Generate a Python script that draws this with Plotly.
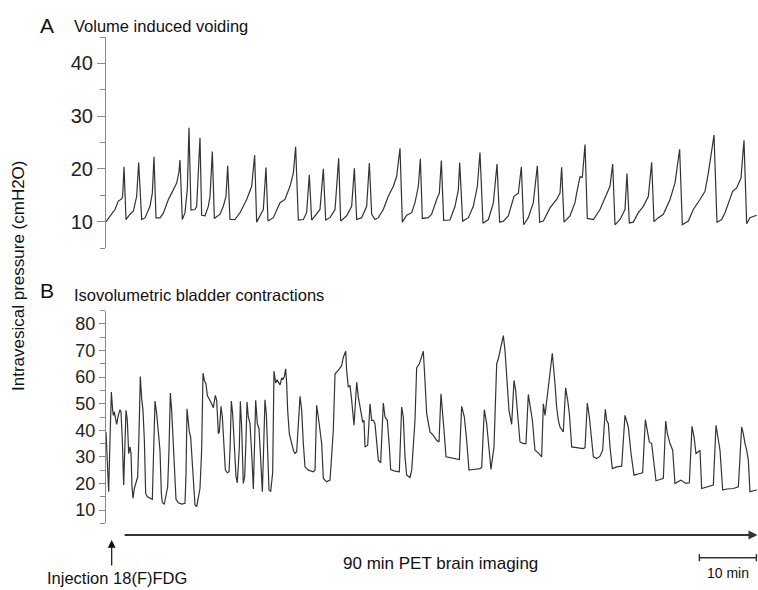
import plotly.graph_objects as go

# ---- Panel A: volume induced voiding (time in min, pressure in cmH2O) ----
a_time = [0, 0.70, 1.58, 2.16, 2.75, 2.92, 3.16, 3.51, 4.21, 4.80, 5.38, 5.73, 6.26, 6.84, 7.72, 8.13,
          8.42, 8.77, 9.47, 10.06, 10.94, 11.52, 12.40, 12.81, 12.98, 13.39, 13.86, 14.27, 14.56, 14.91,
          15.61, 15.91, 16.49, 16.78, 17.37, 17.95, 18.25, 18.65, 19.01, 20.00, 20.58, 21.05, 21.35,
          21.75, 22.63, 23.51, 24.68, 25.56, 26.08, 26.43, 27.02, 27.60, 28.07, 28.42, 29.36, 30.53,
          31.40, 32.28, 32.87, 33.27, 33.74, 34.62, 35.20, 35.67, 36.08, 36.67, 37.54, 38.13, 38.54,
          39.30, 40.18, 40.82, 41.17, 42.22, 43.10, 43.57, 43.98, 44.85, 45.73, 46.20, 46.61, 47.19,
          47.78, 48.65, 49.53, 50.41, 50.99, 51.58, 51.99, 52.75, 53.63, 54.21, 54.80, 55.15, 55.50,
          56.55, 57.13, 58.01, 58.48, 58.83, 59.24, 60.35, 61.23, 61.81, 62.05, 62.57, 63.57, 64.44,
          65.15, 65.61, 66.14, 67.08, 67.95, 68.60, 69.06, 69.71, 70.58, 71.58, 72.34, 72.87, 73.27,
          74.09, 74.97, 75.67, 76.08, 76.73, 77.89, 79.06, 79.65, 79.94, 80.35, 81.40, 82.28, 82.57,
          83.16, 83.57, 84.04, 84.44, 85.50, 86.67, 87.54, 88.42, 88.89, 89.30, 90.18, 91.05, 91.40,
          91.81, 92.51, 93.39, 94.27, 95.15, 95.73, 96.14, 96.90, 97.78, 98.95, 99.82, 100.64, 101.11,
          102.16, 103.04, 104.21, 105.09, 105.67, 106.67, 107.19, 108.01, 108.60, 109.47, 109.94,
          110.64, 111.40, 111.93, 112.40, 112.98, 114.15]
a_pressure = [10.0, 11.1, 12.3, 13.9, 14.3, 14.8, 20.4, 10.4, 11.4, 12.0, 14.8, 21.2, 10.4, 10.7, 12.9, 15.4,
              22.3, 10.7, 10.7, 11.6, 14.2, 15.4, 17.3, 19.5, 21.7, 10.4, 11.7, 16.2, 27.8, 12.2,
              12.3, 12.9, 25.9, 11.2, 11.1, 12.9, 14.8, 23.3, 10.6, 11.4, 12.9, 14.8, 20.6,
              10.4, 10.4, 11.7, 14.2, 16.7, 22.6, 9.9, 11.1, 12.3, 20.25, 10.1, 10.75, 13.6,
              14.2, 16.7, 19.2, 24.2, 10.3, 10.4, 11.7, 18.9, 10.3, 11.2, 12.3, 20.0, 10.3,
              10.75, 12.3, 22.0, 10.1, 11.1, 12.9, 20.1, 10.4, 10.75, 12.9, 21.1, 11.4, 10.4,
              10.75, 12.3, 14.8, 16.7, 18.6, 23.9, 9.9, 11.2, 11.7, 13.6, 16.7, 21.9, 10.6,
              10.75, 11.4, 14.2, 15.4, 21.6, 10.25, 10.3, 12.9, 16.0, 21.2, 10.1, 10.75, 12.9,
              16.7, 23.1, 9.7, 10.4, 13.5, 20.9, 9.9, 10.1, 11.1, 14.8, 15.4, 20.4, 9.4,
              10.75, 13.6, 20.6, 9.9, 10.1, 12.6, 14.2, 15.4, 20.3, 9.9, 11.1, 13.6, 15.4,
              18.5, 18.4, 24.6, 10.6, 10.4, 12.3, 14.5, 16.7, 20.9, 9.4, 10.4, 12.3, 19.1,
              9.75, 9.9, 11.7, 12.9, 14.8, 21.25, 10.0, 10.75, 11.4, 14.2, 17.3, 23.7, 9.4,
              10.1, 12.3, 14.2, 15.75, 19.2, 26.4, 9.9, 10.4, 11.7, 14.2, 15.75,
              16.4, 18.25, 25.4, 9.6, 10.75, 11.2]

# ---- Panel B: isovolumetric bladder contractions ----
b_time = [0, 0.23, 0.47, 0.70, 0.94, 1.17, 1.29, 1.46, 1.64, 1.87, 2.16, 2.46, 2.63, 2.87, 3.10, 3.33,
          3.51, 3.74, 3.98, 4.21, 4.39, 4.56, 4.74, 4.97, 5.26, 5.56, 5.79, 6.02, 6.26, 6.49, 6.73,
          6.96, 7.25, 7.72, 8.13, 8.36, 8.60, 8.89, 9.18, 9.47, 9.71, 9.88, 10.23, 10.53, 10.82,
          11.05, 11.29, 11.52, 11.81, 12.05, 12.28, 12.69, 13.27, 13.86, 14.04, 14.21, 14.44, 14.62,
          14.85, 15.09, 15.32, 15.61, 15.91, 16.26, 16.49, 16.78, 17.02, 17.25, 17.54, 17.78, 18.13,
          18.54, 18.83, 19.18, 19.42, 19.71, 19.88, 20.18, 20.41, 20.70, 20.94, 21.29, 21.58, 21.75,
          21.99, 22.22, 22.51, 22.81, 23.04, 23.39, 23.57, 23.80, 24.09, 24.33, 24.56, 24.74, 24.97,
          25.26, 25.56, 25.85, 26.08, 26.26, 26.55, 26.84, 27.08, 27.43, 27.66, 27.89, 28.13, 28.36,
          28.60, 28.89, 29.24, 29.47, 29.77, 30.00, 30.23, 30.53, 30.82, 30.99, 31.29, 31.52, 31.70,
          31.87, 32.16, 32.57, 32.87, 33.16, 33.45, 34.04, 34.33, 34.62, 34.91, 35.50, 36.37, 36.67,
          36.96, 37.25, 37.54, 37.84, 38.13, 38.71, 39.30, 39.88, 40.18, 40.76, 41.35, 41.64, 42.05,
          42.22, 42.51, 42.81, 43.10, 43.51, 43.98, 44.27, 44.68, 45.03, 45.26, 45.44, 45.91, 46.32,
          46.61, 46.90, 47.19, 47.78, 48.19, 48.65, 48.95, 49.36, 49.71, 49.94, 50.70, 51.46, 51.87,
          52.16, 52.46, 52.75, 53.33, 53.63, 54.21, 54.50, 54.97, 55.38, 55.67, 55.96, 56.26, 56.84,
          57.43, 58.01, 58.42, 58.77, 59.06, 59.30, 59.65, 60.35, 61.52, 61.99, 62.40, 62.87, 63.27,
          63.68, 64.44, 65.61, 65.91, 66.37, 66.78, 67.19, 67.54, 68.07, 68.54, 68.83, 69.24, 69.71,
          70.00, 70.29, 70.70, 71.17, 71.58, 71.87, 72.16, 72.63, 73.22, 73.68, 74.09, 74.39, 74.80,
          75.26, 75.85, 76.43, 76.73, 77.02, 77.31, 77.72, 78.30, 78.77, 79.06, 79.36, 79.65, 80.23,
          80.64, 81.00, 81.29, 81.70, 82.57, 83.74, 84.04, 84.44, 84.80, 85.09, 85.50, 86.08, 86.67,
          87.13, 87.60, 87.84, 88.13, 88.42, 88.83, 89.59, 90.47, 91.05, 91.35, 91.64, 92.11, 92.63,
          93.68, 94.15, 94.62, 94.97, 95.32, 95.73, 96.14, 96.49, 97.19, 97.78, 98.19, 98.48, 98.95,
          99.42, 99.82, 100.41, 100.82, 101.29, 101.75, 102.34, 102.81, 103.16, 103.51, 103.92,
          104.21, 104.50, 105.38, 106.55, 107.02, 107.43, 107.72, 108.19, 108.89, 110.06, 110.94,
          111.52, 111.81, 112.11, 112.40, 112.69, 112.98, 113.57, 114.15]
b_pressure = [39.4, 30.0, 16.9, 36.25, 54.4, 47.5, 45.6, 46.9, 45.0, 42.25, 45.6, 47.75, 46.9, 36.25, 19.4, 38.75,
              47.5, 43.75, 31.25, 33.75, 31.25, 18.75, 14.4, 18.1, 20.0, 22.5, 38.75, 60.25, 51.9, 47.5, 36.25,
              16.25, 15.0, 14.4, 14.0, 32.5, 51.0, 46.25, 38.75, 32.5, 16.25, 12.75, 12.25, 15.0, 18.75,
              32.5, 54.0, 47.5, 36.25, 23.75, 14.0, 12.75, 12.25, 12.5, 23.75, 48.1, 41.25, 39.4,
              37.5, 30.0, 18.75, 11.9, 11.25, 15.0, 18.1, 32.5, 61.5, 58.75, 57.5, 53.1, 51.9,
              50.0, 48.5, 53.1, 51.25, 38.75, 39.4, 49.0, 45.0, 35.0, 25.0, 24.0, 24.4, 32.5,
              51.0, 46.25, 36.25, 22.5, 20.25, 33.5, 50.9, 41.25, 20.0, 22.5, 36.25, 50.6, 45.0,
              42.5, 31.25, 17.9, 36.25, 51.25, 42.5, 40.6, 31.25, 16.9, 33.75, 51.5, 46.25, 30.0,
              17.5, 16.9, 24.0, 62.25, 57.75, 59.0, 58.1, 57.1, 59.75, 59.0, 60.25, 63.1, 57.5,
              47.5, 38.75, 35.0, 32.5, 31.25, 31.9, 52.75, 47.5, 35.0, 26.25, 25.0, 24.4, 25.0,
              49.4, 45.0, 38.75, 35.0, 21.9, 20.6, 21.25, 40.0, 61.25, 62.5, 64.4, 67.5, 69.75,
              62.5, 56.25, 56.9, 51.25, 41.9, 58.1, 52.5, 47.5, 43.1, 43.75, 33.75, 34.4, 50.0,
              43.75, 43.75, 42.5, 28.75, 27.75, 50.25, 45.0, 43.75, 33.75, 25.25, 24.6, 24.4, 48.75,
              45.0, 30.0, 23.1, 22.25, 25.0, 43.75, 63.5, 65.0, 68.1, 69.75, 58.75, 46.25, 39.4,
              38.1, 36.25, 35.6, 53.75, 47.5, 40.0, 30.0, 29.75, 29.4, 29.0, 49.0, 45.0, 36.25,
              25.0, 25.25, 25.6, 26.0, 47.75, 42.5, 33.75, 25.25, 33.75, 65.0, 66.9, 70.6, 75.6,
              70.0, 58.75, 47.5, 42.25, 58.75, 55.0, 47.5, 35.6, 35.0, 35.0, 53.5, 50.0, 43.75,
              32.5, 31.5, 30.0, 50.0, 45.6, 51.25, 60.0, 69.0, 57.5, 48.75, 43.75, 41.25, 39.4,
              56.0, 51.25, 46.25, 33.75, 33.5, 33.1, 33.5, 50.25, 45.0, 38.75, 30.0, 29.4, 30.25,
              32.5, 47.9, 43.75, 42.5, 33.75, 25.6, 26.25, 26.5, 45.6, 43.75, 41.25, 31.25, 23.1,
              23.75, 24.0, 44.0, 40.0, 35.6, 35.0, 26.25, 21.0, 21.5, 21.9, 43.5, 38.75, 35.0,
              32.5, 20.0, 20.6, 21.25, 20.6, 20.0, 20.25, 41.5, 37.5, 31.25, 31.9,
              32.5, 18.1, 18.75, 19.4, 41.9, 36.25, 32.5, 17.5, 17.9, 18.1, 18.75,
              41.25, 38.75, 35.0, 32.5, 28.75, 16.9, 17.25, 17.5]

# ---- Annotation values (min) ----
injection_time = 1.0
imaging_start, imaging_end = 3.0, 114.3
scalebar_start, scalebar_len = 104.1, 10

W, H = 758, 590
FONT = "Liberation Sans, Arial, sans-serif"
LINE = "#333333"
AXC = "#8a8a8a"


def px(xp):
    return xp / W


def py(yp):
    return 1 - yp / H


fig = go.Figure()
fig.add_trace(go.Scatter(x=a_time, y=a_pressure, mode="lines", xaxis="x", yaxis="y",
                         line=dict(color=LINE, width=1.2), showlegend=False, hoverinfo="skip"))
fig.add_trace(go.Scatter(x=b_time, y=b_pressure, mode="lines", xaxis="x2", yaxis="y2",
                         line=dict(color=LINE, width=1.2), showlegend=False, hoverinfo="skip"))

xr = [0, (758 - 106) / 5.7]
xdom = [px(106), 1]
common_x = dict(range=xr, domain=xdom, visible=False, fixedrange=True)
fig.update_layout(
    width=W, height=H, margin=dict(l=0, r=0, t=0, b=0),
    paper_bgcolor="white", plot_bgcolor="white",
    font=dict(family=FONT, color="#222"),
    xaxis=dict(anchor="y", **common_x),
    xaxis2=dict(anchor="y2", **common_x),
    yaxis=dict(domain=[py(248), py(37)], range=[5, 45], anchor="x",
               tick0=0, dtick=10, ticks="outside", ticklen=8, tickwidth=1, tickcolor=AXC,
               showline=True, linecolor=AXC, linewidth=1, showgrid=False, zeroline=False,
               tickfont=dict(size=20, family=FONT, color="#222"),
               minor=dict(tick0=5, dtick=5, ticks="outside", ticklen=5, tickcolor=AXC, showgrid=False)),
    yaxis2=dict(domain=[py(523.3), py(310.7)], range=[5, 85], anchor="x2",
                tick0=0, dtick=10, ticks="outside", ticklen=6, tickwidth=1, tickcolor=AXC,
                showline=True, linecolor=AXC, linewidth=1, showgrid=False, zeroline=False,
                tickfont=dict(size=18, family=FONT, color="#222"),
                minor=dict(tick0=5, dtick=5, ticks="outside", ticklen=5, tickcolor=AXC, showgrid=False)),
)

ann = []


def text(x, y, s, size, xanchor="center", angle=0):
    ann.append(dict(x=px(x), y=py(y), xref="paper", yref="paper", text=s, showarrow=False,
                    xanchor=xanchor, yanchor="middle", textangle=angle,
                    font=dict(size=size, family=FONT, color="#111")))


text(47, 25, "A", 21)
text(72, 26, "Volume induced voiding", 16.5, xanchor="left")
text(47, 290, "B", 21)
text(72, 295, "Isovolumetric bladder contractions", 16.5, xanchor="left")
text(18, 276, "Intravesical pressure (cmH2O)", 17, angle=-90)
text(440, 563, "90 min PET brain imaging", 17)
text(117, 578, "Injection 18(F)FDG", 16.5)
text(728, 573, "10 min", 14)

# injection arrow
ann.append(dict(x=injection_time, y=py(540), xref="x2", yref="paper", ax=0, ay=27,
                showarrow=True, arrowhead=2, arrowsize=1.3, arrowwidth=1.2, arrowcolor="#111", text=""))
# imaging arrow
ann.append(dict(x=imaging_end, y=py(535), xref="x2", yref="paper", ax=imaging_start, ay=0,
                axref="x2", ayref="pixel", showarrow=True, arrowhead=2, arrowsize=0.9,
                arrowwidth=2, arrowcolor="#333", text=""))
fig.update_layout(annotations=ann)

# scale bar
sb_y = py(557.7)
cap = 3.5 / H
shapes = [
    dict(type="line", xref="x2", yref="paper", x0=scalebar_start, x1=scalebar_start + scalebar_len,
         y0=sb_y, y1=sb_y, line=dict(color="#333", width=1.5)),
    dict(type="line", xref="x2", yref="paper", x0=scalebar_start, x1=scalebar_start,
         y0=sb_y - cap, y1=sb_y + cap, line=dict(color="#333", width=1.5)),
    dict(type="line", xref="x2", yref="paper", x0=scalebar_start + scalebar_len, x1=scalebar_start + scalebar_len,
         y0=sb_y - cap, y1=sb_y + cap, line=dict(color="#333", width=1.5)),
]
fig.update_layout(shapes=shapes)

# remove the default page margin so the figure fills the window exactly
fig.write_html("out.html", config={"displayModeBar": False},
               post_script="document.body.style.margin='0';document.documentElement.style.overflow='hidden';")
